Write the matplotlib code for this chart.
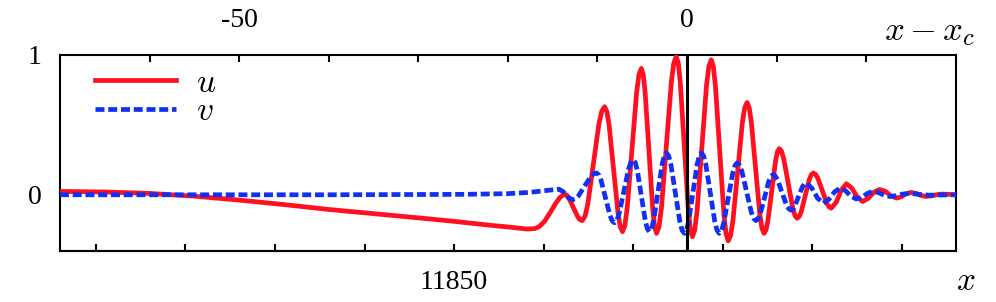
import matplotlib
matplotlib.use("Agg")
import matplotlib.pyplot as plt

plt.rcParams['font.family'] = ['Liberation Serif', 'DejaVu Serif']
plt.rcParams['mathtext.fontset'] = 'cm'

# position of x_c on the absolute x axis
XC = 11876

# x - x_c and u
u_t = [-70, -65, -60, -55, -50, -45, -40, -35, -30, -26, -22, -20, -17.9, -17.0, -16.5, -15.9,
       -15.3, -14.7, -14.2, -13.7, -13.45, -13.2, -12.7, -12.2, -11.95, -11.7,
       -11.3875, -11.075, -10.45, -9.825, -9.5125, -9.2,
       -8.95, -8.7, -8.2, -7.7, -7.45, -7.2,
       -6.9375, -6.675, -6.15, -5.625, -5.3625, -5.1,
       -4.8875, -4.675, -4.25, -3.825, -3.6125, -3.4,
       -3.125, -2.85, -2.3, -1.75, -1.475, -1.2,
       -0.975, -0.75, -0.3, 0.15, 0.375, 0.6,
       0.8625, 1.125, 1.65, 2.175, 2.4375, 2.7,
       2.9375, 3.175, 3.65, 4.125, 4.3625, 4.6,
       4.8625, 5.125, 5.65, 6.175, 6.4375, 6.7,
       6.9375, 7.175, 7.65, 8.125, 8.3625, 8.6,
       8.8125, 9.025, 9.45, 9.875, 10.0875, 10.3,
       10.55, 10.8, 11.3, 11.8, 12.05, 12.3,
       12.525, 12.75, 13.2, 13.65, 13.875, 14.1,
       14.35, 14.6, 15.1, 15.6, 15.85, 16.1,
       16.67, 17.23, 17.8, 18.4, 19.0, 19.6, 20.23, 20.87,
       21.5, 22.13, 22.77, 23.4, 23.93, 24.47, 25.0, 25.57, 26.13, 26.7, 27.3, 27.9,
       28.5, 29.25, 30]
u_val = [0.024, 0.02, 0.01, -0.01, -0.038, -0.07, -0.105, -0.135, -0.165, -0.19, -0.218, -0.23, -0.245, -0.242, -0.228, -0.19,
         -0.13, -0.065, -0.02, 0.005, -0.002, -0.023, -0.09, -0.157, -0.178, -0.185,
         -0.154, -0.066, 0.223, 0.511, 0.599, 0.63,
         0.596, 0.499, 0.183, -0.133, -0.23, -0.264,
         -0.22, -0.093, 0.32, 0.733, 0.86, 0.904,
         0.859, 0.732, 0.314, -0.104, -0.231, -0.276,
         -0.228, -0.091, 0.357, 0.805, 0.942, 0.99,
         0.941, 0.802, 0.345, -0.112, -0.251, -0.30,
         -0.252, -0.115, 0.333, 0.781, 0.918, 0.966,
         0.917, 0.776, 0.315, -0.146, -0.281, -0.33,
         -0.292, -0.186, 0.165, 0.515, 0.622, 0.66,
         0.624, 0.523, 0.192, -0.139, -0.24, -0.276,
         -0.253, -0.188, 0.024, 0.236, 0.307, 0.33,
         0.311, 0.256, 0.081, -0.094, -0.149, -0.168,
         -0.156, -0.121, -0.006, 0.109, 0.144, 0.156,
         0.146, 0.119, 0.03, -0.059, -0.086, -0.096,
         -0.052, 0.035, 0.079, 0.047, -0.016, -0.048, -0.026, 0.019,
         0.038, 0.025, -0.008, -0.024, -0.014, 0.007, 0.017, 0.01, -0.005, -0.012, -0.008, 0.001,
         0.005, 0.003, 0.0]

# x - x_c and v
v_t = [-70, -40, -25, -20, -17.6, -15.5, -14.3, -13.8, -13.3, -12.8,
       -12.4625, -12.125, -11.45, -10.775, -10.4375, -10.1,
       -9.85, -9.6, -9.1, -8.6, -8.35, -8.1,
       -7.8375, -7.575, -7.05, -6.525, -6.2625, -6.0,
       -5.775, -5.55, -5.1, -4.65, -4.425, -4.2,
       -3.9625, -3.725, -3.25, -2.775, -2.5375, -2.3,
       -2.05, -1.8, -1.3, -0.8, -0.55, -0.3,
       -0.0625, 0.175, 0.65, 1.125, 1.3625, 1.6,
       1.85, 2.1, 2.6, 3.1, 3.35, 3.6,
       3.85, 4.1, 4.6, 5.1, 5.35, 5.6,
       5.8625, 6.125, 6.65, 7.175, 7.4375, 7.7,
       7.9375, 8.175, 8.65, 9.125, 9.3625, 9.6,
       9.85, 10.1, 10.6, 11.1, 11.35, 11.6,
       11.8125, 12.025, 12.45, 12.875, 13.0875, 13.3,
       13.93, 14.57, 15.2, 15.83, 16.47, 17.1, 17.7, 18.3, 18.9, 19.53, 20.17,
       20.8, 21.4, 22.0, 22.6, 23.33, 24.07, 24.8, 27.0, 30]
v_val = [0.0, 0.0, 0.003, 0.008, 0.017, 0.032, 0.04, 0.021, -0.017, -0.036,
         -0.029, -0.008, 0.06, 0.128, 0.149, 0.156,
         0.142, 0.104, -0.022, -0.148, -0.186, -0.2,
         -0.183, -0.134, 0.025, 0.184, 0.233, 0.25,
         0.23, 0.175, -0.007, -0.189, -0.244, -0.264,
         -0.243, -0.182, 0.018, 0.218, 0.279, 0.30,
         0.278, 0.216, 0.012, -0.192, -0.254, -0.276,
         -0.254, -0.192, 0.012, 0.216, 0.278, 0.30,
         0.278, 0.216, 0.012, -0.192, -0.254, -0.276,
         -0.257, -0.202, -0.024, 0.154, 0.209, 0.228,
         0.212, 0.168, 0.022, -0.125, -0.169, -0.185,
         -0.172, -0.137, -0.02, 0.096, 0.131, 0.144,
         0.134, 0.107, 0.017, -0.073, -0.10, -0.11,
         -0.103, -0.082, -0.013, 0.056, 0.077, 0.084,
         0.048, -0.024, -0.06, -0.033, 0.021, 0.048, 0.029, -0.011, -0.03, -0.017, 0.011,
         0.024, 0.015, -0.003, -0.012, -0.007, 0.005, 0.01, -0.003, 0.0]

top_ticks = [-60, -50, -40, -30, -20, -10, 0, 10, 20]
top_labels = ['', '-50', '', '', '', '', '0', '', '']
bottom_ticks = [11810, 11820, 11830, 11840, 11850, 11860, 11870, 11880, 11890, 11900]
bottom_labels = ['', '', '', '', '11850', '', '', '', '', '']

fig = plt.figure(figsize=(9.96, 3.02), dpi=100)
ax = fig.add_axes([0.0602, 0.1699, 0.8994, 0.648])

ax.plot(u_t, u_val, color='#ff1020', lw=3.4, solid_joinstyle='round', label='$u$', zorder=3)
ax.plot(v_t, v_val, color='#1030f5', lw=3.4, dashes=(1.9, 0.8), dash_capstyle='butt',
        label='$v$', zorder=4)
ax.axvline(0, color='black', lw=2.2, zorder=5)

ax.set_xlim(-70, 30)
ax.set_ylim(-0.4, 1.0)

ax.xaxis.tick_top()
ax.set_xticks(top_ticks, top_labels)
ax.tick_params(axis='x', direction='in', length=5, width=1.5, labelsize=20, pad=16)
ax.set_yticks([0, 1], ['0', '1'])
ax.tick_params(axis='y', length=0, labelsize=20, pad=13)

sec = ax.secondary_xaxis('bottom', functions=(lambda t: t + XC, lambda x: x - XC))
sec.set_xticks(bottom_ticks, bottom_labels)
sec.tick_params(direction='in', length=5, width=1.5, labelsize=20, pad=14)
sec.spines['bottom'].set_linewidth(1.5)

for s in ax.spines.values():
    s.set_linewidth(1.5)

fig.text(0.979, 0.894, r'$x - x_c$', fontsize=25, ha='right', va='center')
fig.text(0.979, 0.066, '$x$', fontsize=24, ha='right', va='center')

ax.legend(loc='upper left', bbox_to_anchor=(0.024, 1.0), frameon=False, fontsize=24,
          handlelength=2.45, handletextpad=0.6, labelspacing=-0.06, borderaxespad=0.0)

fig.savefig('out.png', dpi=100)
